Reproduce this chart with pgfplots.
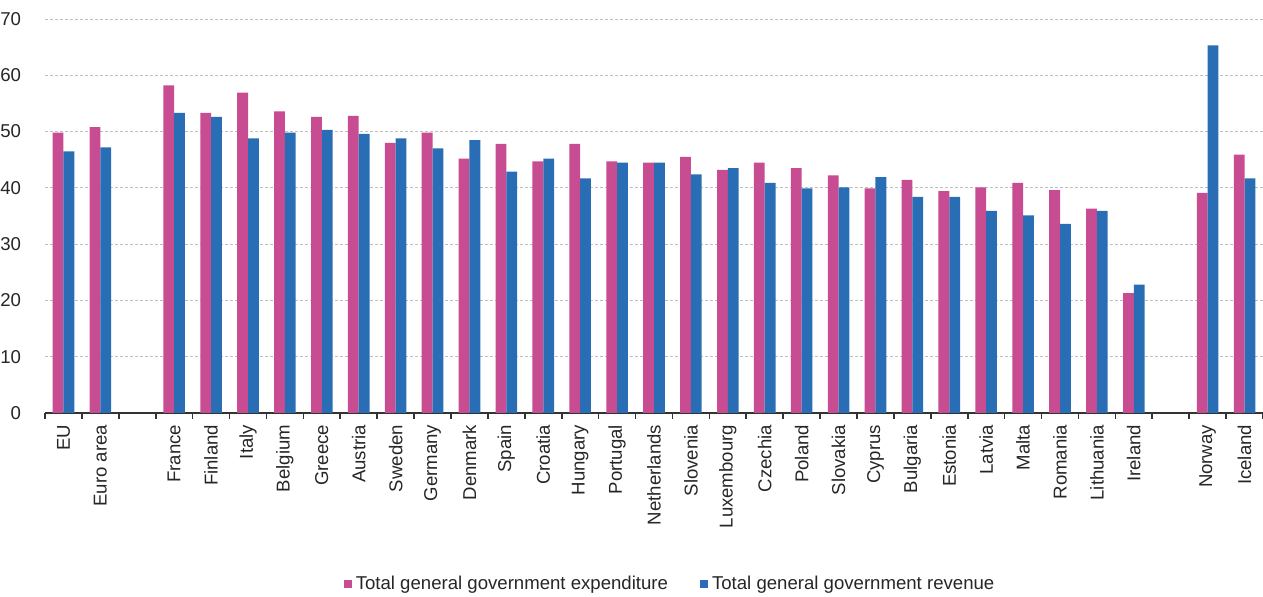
\documentclass[border=0pt]{standalone}
\usepackage{fontspec}
\setmainfont{Liberation Sans}
\usepackage{pgfplots}
\pgfplotsset{compat=1.18}
\usepackage{pgfplotstable}
\definecolor{exppink}{RGB}{200,76,145}
\definecolor{revblue}{RGB}{41,110,180}
\definecolor{gridgray}{RGB}{190,190,190}
\definecolor{txt}{RGB}{38,38,38}

\pgfplotstableread{
x exp rev
0 49.8 46.5
1 50.8 47.2
3 58.2 53.3
4 53.3 52.6
5 56.9 48.8
6 53.6 49.8
7 52.6 50.3
8 52.8 49.6
9 48.0 48.8
10 49.8 47.0
11 45.2 48.5
12 47.8 42.9
13 44.7 45.2
14 47.8 41.7
15 44.7 44.5
16 44.5 44.5
17 45.5 42.4
18 43.2 43.5
19 44.5 40.9
20 43.5 39.9
21 42.2 40.1
22 39.9 41.9
23 41.4 38.4
24 39.4 38.4
25 40.1 35.9
26 40.9 35.1
27 39.6 33.6
28 36.3 35.9
29 21.3 22.8
31 39.1 65.3
32 45.9 41.7
}\govdata

\begin{document}
\begin{tikzpicture}
\begin{axis}[
  at={(0,0)}, anchor=south west,
  scale only axis,
  width=609pt, height=197pt,
  xmin=-0.5, xmax=32.5,
  ymin=0, ymax=70,
  ybar=0pt, bar width=5.4pt,
  axis x line*=bottom, axis y line*=left,
  x axis line style={-, draw=black!80, line width=0.8pt},
  y axis line style={draw=none},
  xtick={0,1,3,4,5,6,7,8,9,10,11,12,13,14,15,16,17,18,19,20,21,22,23,24,25,26,27,28,29,31,32},
  xticklabels={EU,Euro area,France,Finland,Italy,Belgium,Greece,Austria,Sweden,Germany,Denmark,Spain,Croatia,Hungary,Portugal,Netherlands,Slovenia,Luxembourg,Czechia,Poland,Slovakia,Cyprus,Bulgaria,Estonia,Latvia,Malta,Romania,Lithuania,Ireland,Norway,Iceland},
  minor xtick={-0.5,0.5,...,32.5},
  major x tick style={draw=none},
  minor x tick style={draw=black!80, line width=0.8pt},
  minor tick length=2.8pt,
  tick align=outside,
  ytick={0,10,...,70},
  major y tick style={draw=none},
  /pgf/number format/assume math mode=true,
  ymajorgrids,
  y grid style={gridgray, dash pattern=on 1.5pt off 1pt, line width=0.5pt},
  xticklabel shift=1.5pt,
  xticklabel style={rotate=90, anchor=east, inner sep=0pt, font=\fontsize{9.3}{11}\selectfont, text=txt},
  yticklabel style={anchor=east, inner sep=0pt, xshift=-7.5pt, font=\fontsize{9.3}{11}\selectfont, text=txt},
  legend style={draw=none, fill=none, at={(0.514,-0.434)}, anchor=center,
    legend columns=2, font=\fontsize{9.3}{11}\selectfont, text=txt,
    /tikz/every even column/.append style={column sep=14pt},
    inner sep=0pt},
  legend image code/.code={\fill[#1] (0pt,-2pt) rectangle (4pt,2pt);},
  legend cell align=left,
]
\addplot[fill=exppink, draw=none] table[x=x, y=exp] {\govdata};
\addplot[fill=revblue, draw=none] table[x=x, y=rev] {\govdata};
\legend{Total general government expenditure, Total general government revenue}
\end{axis}
\pgfresetboundingbox
\path (-22.5pt,-92pt) rectangle (609pt,206.5pt);
\end{tikzpicture}
\end{document}
